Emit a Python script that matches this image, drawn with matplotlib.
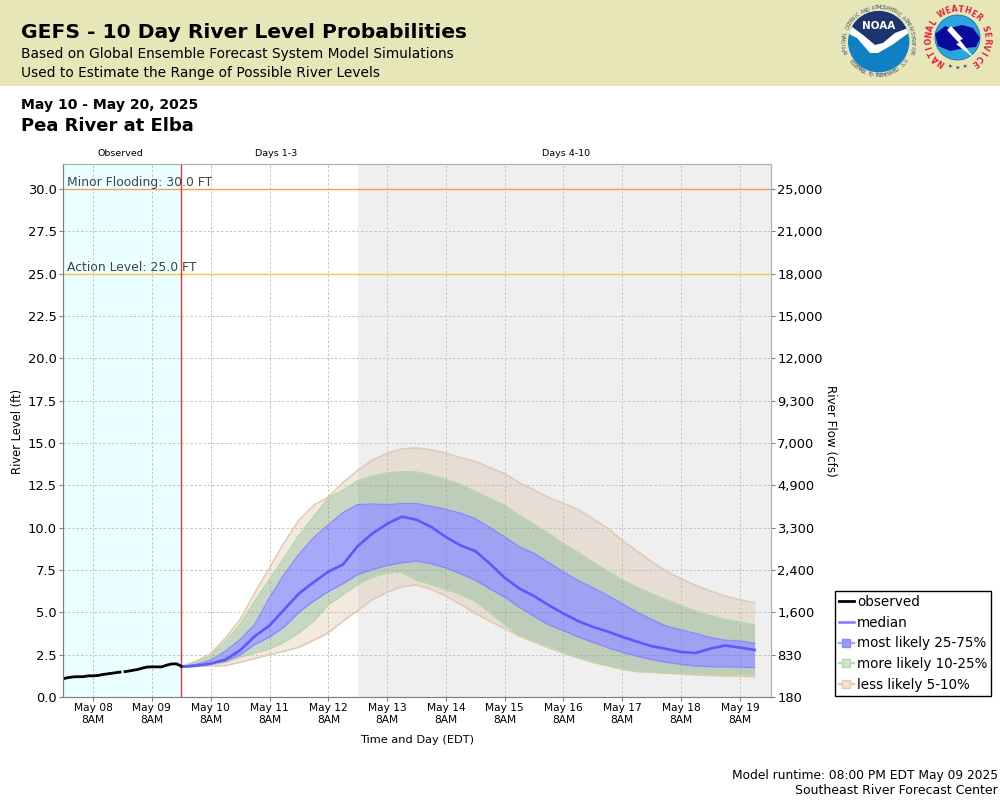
#!/usr/bin/env python3
"""GEFS 10 day river level probabilities, Pea River at Elba."""

import matplotlib

matplotlib.use("Agg")
import matplotlib.pyplot as plt
import numpy as np
from matplotlib.lines import Line2D
from matplotlib.patches import Circle, Polygon, Rectangle

# hours since May 08 8AM
OBS_HOURS = [-12, -10, -8, -6, -4, -2, 0, 2, 4, 6, 8, 10, 11, 12, 13, 14, 16, 18,
             20, 22, 24, 26, 28, 30, 32, 34, 36]
OBS_LEVEL = [1.09, 1.15, 1.19, 1.20, 1.20, 1.25, 1.25, 1.27, 1.33, 1.37, 1.41, 1.45,
             1.47, np.nan, 1.50, 1.52, 1.57, 1.62, 1.70, 1.77, 1.78, 1.78, 1.78,
             1.88, 1.95, 1.96, 1.82]

FCST_HOURS = [36, 42, 48, 54, 60, 66, 72, 78, 84, 90, 96, 102, 108, 114, 120, 126,
              132, 138, 144, 150, 156, 162, 168, 174, 180, 186, 192, 198, 204, 210,
              216, 222, 228, 234, 240, 246, 252, 258, 264, 270]
P95 = [1.80, 2.11, 2.56, 3.49, 4.58, 6.15, 7.63, 9.11, 10.45, 11.32, 11.81, 12.66,
       13.39, 14.00, 14.38, 14.65, 14.71, 14.60, 14.40, 14.14, 13.90, 13.55, 13.19,
       12.66, 12.23, 11.77, 11.44, 11.08, 10.53, 9.96, 9.25, 8.62, 7.99, 7.43, 6.98,
       6.59, 6.25, 5.96, 5.74, 5.56]
P90 = [1.80, 2.05, 2.45, 3.29, 4.28, 5.66, 6.94, 8.22, 9.54, 10.65, 11.73, 12.23,
       12.76, 13.05, 13.23, 13.31, 13.29, 13.11, 12.86, 12.56, 12.13, 11.73, 11.32,
       10.73, 10.20, 9.64, 9.05, 8.52, 7.97, 7.43, 6.90, 6.49, 6.09, 5.74, 5.40,
       5.07, 4.81, 4.58, 4.42, 4.26]
P75 = [1.79, 1.93, 2.17, 2.70, 3.39, 4.28, 5.86, 7.24, 8.42, 9.41, 10.16, 10.89,
       11.36, 11.40, 11.36, 11.42, 11.42, 11.26, 11.08, 10.85, 10.53, 10.00, 9.45,
       8.87, 8.48, 7.93, 7.38, 6.88, 6.45, 6.00, 5.50, 5.01, 4.58, 4.18, 3.96, 3.75,
       3.51, 3.35, 3.31, 3.16]
MEDIAN = [1.78, 1.85, 1.97, 2.21, 2.76, 3.59, 4.22, 5.17, 6.11, 6.78, 7.40, 7.83,
          8.91, 9.66, 10.23, 10.65, 10.47, 10.04, 9.45, 8.95, 8.62, 7.87, 7.04, 6.41,
          5.96, 5.42, 4.93, 4.48, 4.14, 3.87, 3.55, 3.27, 3.00, 2.84, 2.66, 2.60,
          2.86, 3.04, 2.92, 2.78]
P25 = [1.78, 1.85, 1.97, 2.11, 2.50, 3.10, 3.55, 4.14, 5.01, 5.66, 6.23, 6.69, 7.24,
       7.53, 7.77, 7.93, 8.03, 7.87, 7.63, 7.28, 6.90, 6.39, 5.90, 5.30, 4.77, 4.26,
       3.92, 3.55, 3.23, 2.92, 2.64, 2.41, 2.21, 2.05, 1.93, 1.83, 1.79, 1.79, 1.77,
       1.74]
P10 = [1.78, 1.83, 1.91, 2.05, 2.35, 2.60, 2.84, 3.25, 3.79, 4.48, 5.46, 6.05, 6.65,
       7.08, 7.34, 7.37, 6.90, 6.65, 6.35, 6.05, 5.66, 4.97, 4.28, 3.65, 3.29, 3.00,
       2.64, 2.35, 2.07, 1.87, 1.64, 1.52, 1.48, 1.44, 1.40, 1.36, 1.34, 1.32, 1.32,
       1.30]
P5 = [1.77, 1.81, 1.83, 1.85, 2.05, 2.27, 2.50, 2.70, 2.94, 3.35, 3.79, 4.48, 5.11,
      5.76, 6.19, 6.51, 6.63, 6.35, 5.96, 5.46, 4.93, 4.48, 4.04, 3.59, 3.25, 2.90,
      2.58, 2.31, 2.05, 1.85, 1.66, 1.50, 1.46, 1.40, 1.36, 1.30, 1.26, 1.24, 1.22,
      1.20]

DAY_TICK_HOURS = [0, 24, 48, 72, 96, 120, 144, 168, 192, 216, 240, 264]
DAY_TICK_LABELS = ["May 08\n8AM", "May 09\n8AM", "May 10\n8AM", "May 11\n8AM",
                   "May 12\n8AM", "May 13\n8AM", "May 14\n8AM", "May 15\n8AM",
                   "May 16\n8AM", "May 17\n8AM", "May 18\n8AM", "May 19\n8AM"]
LEVEL_TICKS = [0.0, 2.5, 5.0, 7.5, 10.0, 12.5, 15.0, 17.5, 20.0, 22.5, 25.0, 27.5, 30.0]
FLOW_LABELS = ["180", "830", "1,600", "2,400", "3,300", "4,900", "7,000", "9,300",
               "12,000", "15,000", "18,000", "21,000", "25,000"]

NOW_HOUR = 36
DAY4_HOUR = 108
MINOR_FLOOD = 30.0
ACTION_LEVEL = 25.0

BLUE = "#6161f7"
GREEN = "#759b69"
TAN = "#cdac84"


def ring_text(ax, text, cx, cy, radius, start, stop, size, color, weight="normal", flip=False):
    """Lay letters along a circle, angles in degrees clockwise from the top."""
    for char, theta in zip(text, np.linspace(start, stop, len(text))):
        rad = np.radians(theta)
        x = cx + radius * np.sin(rad)
        y = cy - radius * np.cos(rad)
        rot = 180 - theta if flip else -theta
        ax.text(x, y, char, fontsize=size, color=color, weight=weight, rotation=rot,
                rotation_mode="anchor", ha="center", va="center")


def draw_noaa(ax) -> None:
    cx, cy = 878.7, 41.7
    disc = Circle((cx, cy), 30.7, fc="#0f80c4", ec="none")
    ax.add_patch(disc)
    dark = Polygon([(853, 10), (905, 10), (910, 27), (895, 33), (883, 43), (875, 45),
                    (863, 35), (848, 23)], fc="#1d3470", ec="none")
    ax.add_patch(dark)
    dark.set_clip_path(disc)
    bird = Polygon([(848, 24), (863, 35), (875, 45), (883, 43), (895, 33), (911, 27),
                    (910, 32), (892, 45), (878, 53), (870, 53), (857, 38), (847, 33)],
                   fc="white", ec="none")
    ax.add_patch(bird)
    bird.set_clip_path(disc)
    ax.text(cx, 26, "NOAA", color="white", fontsize=7.5, weight="bold", ha="center", va="center")
    ring_text(ax, "NATIONAL OCEANIC AND ATMOSPHERIC ADMINISTRATION", cx, cy, 34, -108, 108, 3.4, "#3b4a6b")
    ring_text(ax, "U.S. DEPARTMENT OF COMMERCE", cx, cy, 34, 125, 235, 3.4, "#3b4a6b", flip=True)


def draw_nws(ax) -> None:
    cx, cy = 957.5, 37.5
    ax.add_patch(Circle((cx, cy), 22.5, fc="#2aa6dc", ec="#1c6fb0", lw=0.6))
    ax.add_patch(Polygon([(935, 34), (945, 26), (950, 28), (962, 25), (973, 28), (980, 38),
                          (976, 47), (965, 48), (950, 51), (938, 46)], fc="#0a0a9c", ec="none"))
    ax.add_patch(Polygon([(951, 26), (963, 39), (960, 40), (974, 58), (956, 44), (959, 43),
                          (947, 30)], fc="white", ec="none"))
    ring_text(ax, "NATIONAL WEATHER SERVICE", cx, cy + 1, 29, -145, 145, 5.6, "#e1203c", weight="bold")
    ring_text(ax, "***", cx, cy, 31.5, 195, 165, 5, "#20209c", weight="bold", flip=True)


def style_axis(ax) -> None:
    for side in ["left", "bottom"]:
        ax.spines[side].set_color("#808080")
    for side in ["top", "right"]:
        ax.spines[side].set_color("#b0b0b0")
    ax.tick_params(colors="#808080", labelcolor="black", length=3, width=0.8, pad=1.5)


def main() -> None:
    fig = plt.figure(figsize=(10, 8), dpi=100)
    ax = fig.add_axes([0.063, 1 - 697 / 800, 0.708, 533 / 800])

    obs_x = np.array(OBS_HOURS, dtype=float)
    fc_x = np.array(FCST_HOURS, dtype=float)
    xlim = (-12.3, 276.7)

    ax.axvspan(xlim[0], NOW_HOUR, color="#eaffff", lw=0, zorder=0)
    ax.axvspan(DAY4_HOUR, xlim[1], color="#efefef", lw=0, zorder=0)
    ax.grid(True, color="#c4c4c4", ls=(0, (2.5, 2)), lw=0.7, zorder=1)
    ax.set_axisbelow(True)

    ax.axhline(MINOR_FLOOD, color="#f0a060", lw=1.0, zorder=2)
    ax.axhline(ACTION_LEVEL, color="#f6c644", lw=1.0, zorder=2)
    ax.axvline(NOW_HOUR, color="#e03636", lw=1.0, zorder=5)

    ax.fill_between(fc_x, P90, P95, color=TAN, alpha=0.25, lw=0, zorder=3)
    ax.fill_between(fc_x, P5, P10, color=TAN, alpha=0.25, lw=0, zorder=3)
    ax.fill_between(fc_x, P75, P90, color=GREEN, alpha=0.4, lw=0, zorder=3)
    ax.fill_between(fc_x, P10, P25, color=GREEN, alpha=0.4, lw=0, zorder=3)
    ax.fill_between(fc_x, P25, P75, color=BLUE, alpha=0.55, lw=0, zorder=3)
    for series in [P95, P5]:
        ax.plot(fc_x, series, color="#e2cbb2", lw=1.2, zorder=4)
    for series in [P90, P10]:
        ax.plot(fc_x, series, color="#b9d6ab", lw=1.1, zorder=4)
    for series in [P75, P25]:
        ax.plot(fc_x, series, color="#8a8afa", lw=1.0, zorder=4)
    ax.plot(fc_x, MEDIAN, color="#5a5aff", lw=1.9, zorder=6)
    ax.plot(obs_x, OBS_LEVEL, color="black", lw=2.0, zorder=6)

    ax.text(-10.6, MINOR_FLOOD, "Minor Flooding: 30.0 FT", color="#444444", fontsize=8.9,
            va="bottom", ha="left", zorder=7)
    ax.text(-10.6, ACTION_LEVEL, "Action Level: 25.0 FT", color="#444444", fontsize=8.9,
            va="bottom", ha="left", zorder=7)

    ax.set_xlim(*xlim)
    ax.set_ylim(0, 31.48)
    ax.set_xticks(DAY_TICK_HOURS, DAY_TICK_LABELS, fontsize=7.7, linespacing=1.25)
    ax.set_yticks(LEVEL_TICKS, [f"{v:.1f}" for v in LEVEL_TICKS], fontsize=9.4)
    style_axis(ax)

    flow = ax.twinx()
    flow.set_ylim(ax.get_ylim())
    flow.set_yticks(LEVEL_TICKS, FLOW_LABELS, fontsize=9.4)
    style_axis(flow)

    handles = [
        Line2D([0], [0], color="black", lw=2.0, label="observed"),
        Line2D([0], [0], color="#7b7bff", lw=1.8, label="median"),
        Line2D([0], [0], color="#a8a8fb", lw=1.6, marker="s", ms=6, mfc="#9a9afa", mec="#8a8afa",
               label="most likely 25-75%"),
        Line2D([0], [0], color="#bcdcb0", lw=1.6, marker="s", ms=6, mfc="#cfe3c6", mec="#b9d6ab",
               label="more likely 10-25%"),
        Line2D([0], [0], color="#e2cbb2", lw=1.6, marker="s", ms=6, mfc="#efe4d6", mec="#e2cbb2",
               label="less likely 5-10%"),
    ]
    leg = fig.legend(handles=handles, loc="upper left", bbox_to_anchor=(0.835, 1 - 591 / 800),
                     borderaxespad=0, fontsize=9.75, frameon=True, fancybox=False, framealpha=1,
                     edgecolor="black", labelspacing=0.49, handlelength=1.07, handletextpad=0.25,
                     borderpad=0.3)
    leg.get_frame().set_linewidth(1.0)

    # everything outside the plot area, in image pixels
    page = fig.add_axes([0, 0, 1, 1], zorder=-1)
    page.set_xlim(0, 1000)
    page.set_ylim(800, 0)
    page.axis("off")
    page.add_patch(Rectangle((0, 0), 1000, 85.5, fc="#e6e6b8", ec="none"))
    page.text(21, 33, "GEFS - 10 Day River Level Probabilities", fontsize=14.6, weight="bold", va="center")
    page.text(21, 54, "Based on Global Ensemble Forecast System Model Simulations", fontsize=9.9, va="center")
    page.text(21, 73, "Used to Estimate the Range of Possible River Levels", fontsize=9.9, va="center")
    draw_noaa(page)
    draw_nws(page)

    page.text(21, 105, "May 10 - May 20, 2025", fontsize=10.1, weight="bold", va="center")
    page.text(21, 126, "Pea River at Elba", fontsize=13, weight="bold", va="center")
    page.text(120, 154, "Observed", fontsize=6.8, ha="center", va="center")
    page.text(276, 154, "Days 1-3", fontsize=6.8, ha="center", va="center")
    page.text(566, 154, "Days 4-10", fontsize=6.8, ha="center", va="center")
    page.text(417, 740, "Time and Day (EDT)", fontsize=8.2, ha="center", va="center")
    page.text(18, 431, "River Level (ft)", fontsize=8.3, rotation=90, ha="center", va="center")
    page.text(831, 431, "River Flow (cfs)", fontsize=8.6, rotation=-90, ha="center", va="center")
    page.text(998, 775, "Model runtime: 08:00 PM EDT May 09 2025", fontsize=8.8, ha="right", va="center")
    page.text(998, 791, "Southeast River Forecast Center", fontsize=9.0, ha="right", va="center")

    ax.patch.set_alpha(0)
    fig.savefig("out.png", dpi=100)
    plt.close(fig)


if __name__ == "__main__":
    main()
